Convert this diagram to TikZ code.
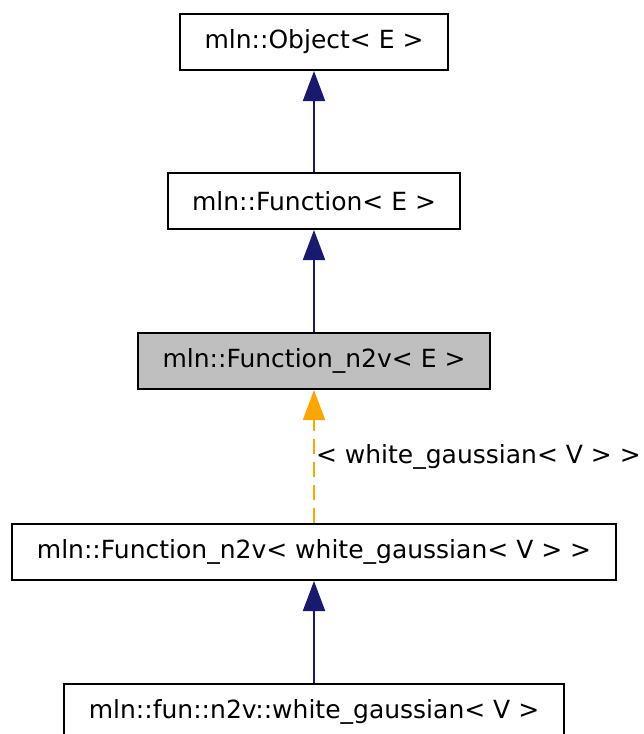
\documentclass[tikz,border=0pt]{standalone}
\usepackage{fontspec}
\setmainfont{DejaVu Sans}
\usetikzlibrary{arrows.meta,positioning}
\definecolor{navy}{HTML}{191970}
\definecolor{amber}{HTML}{FFA500}
\definecolor{shade}{HTML}{BFBFBF}

\begin{document}
\begin{tikzpicture}[
  x=1pt,y=-1pt,
  font=\fontsize{25}{30}\selectfont,
  cls/.style={draw=black,line width=2pt,fill=white,minimum height=56pt,inner xsep=24.5pt,inner ysep=0pt},
  inherit/.style={draw=navy,line width=2pt,-{Triangle[length=30pt,width=22pt]}},
  tmpl/.style={draw=amber,line width=2pt,dash pattern=on 15pt off 8pt,-{Triangle[length=30pt,width=22pt]}}
]
\useasboundingbox (0,0) rectangle (644,734);
% --- class hierarchy, top to bottom --------------------------------------
\node[cls] (obj) at (314,42) {mln::Object< E >};
\node[cls] (fun) at (314,201) {mln::Function< E >};
\node[cls,fill=shade] (n2v) at (314,361) {mln::Function\_n2v< E >};
\node[cls] (inst) at (314,552) {mln::Function\_n2v< white\_gaussian< V > >};
\node[cls] (wg) at (314,712) {mln::fun::n2v::white\_gaussian< V >};
% --- connectors ---------------------------------------------------------
\draw[inherit] (fun.north) -- (obj.south);
\draw[inherit] (n2v.north) -- (fun.south);
\draw[tmpl] (inst.north) -- (n2v.south)
  node[pos=0.5,anchor=west,inner sep=1pt]{< white\_gaussian< V > >};
\draw[inherit] (wg.north) -- (inst.south);
\end{tikzpicture}
\end{document}
